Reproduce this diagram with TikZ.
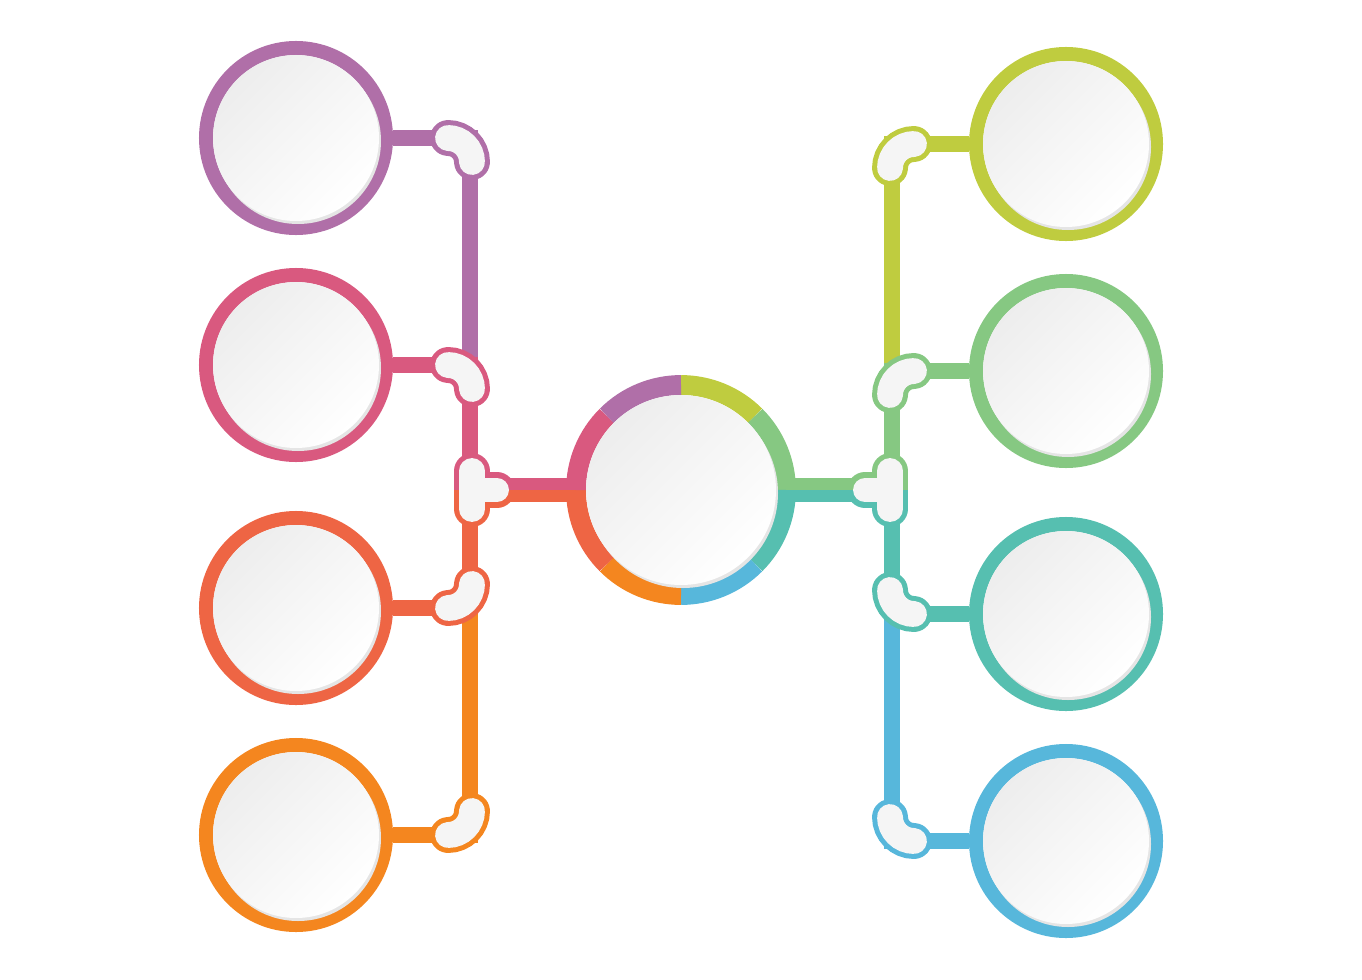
\documentclass[tikz,border=0pt]{standalone}
\usepackage{xcolor}
\usepackage{tikz}
\usetikzlibrary{positioning,calc}

\definecolor{purp}{HTML}{B06FA8}
\definecolor{rose}{HTML}{D9597F}
\definecolor{coral}{HTML}{EE6544}
\definecolor{orng}{HTML}{F4861F}
\definecolor{lime}{HTML}{BFCC3F}
\definecolor{leaf}{HTML}{86C882}
\definecolor{aqua}{HTML}{56BFB0}
\definecolor{sky}{HTML}{57B7DB}

\tikzset{
    bubble/.style={circle, draw=#1, line width=8pt, minimum size=3.6cm, inner sep=0pt},
    link/.style={#1, line width=9.5pt},
    halflink/.style={#1, line width=7pt},
    disc/.style={top color=black!7, bottom color=white, shading angle=45},
    pics/elbow/.style={code={
        \draw[#1, line width=20.4pt, line cap=round] (-22,0) .. controls (-8.75,0) and (2,10.75) .. (2,24);
        \draw[black!4, line width=14.7pt, line cap=round] (-22,0) .. controls (-8.75,0) and (2,10.75) .. (2,24);
    }},
    pics/tee/.style 2 args={code={
        \begin{scope}
            \clip (-30,-45) rectangle (50,0);
            \draw[#1, line width=20.4pt, line cap=round] (2,-19) -- (2,19) (2,0) -- (27,0);
        \end{scope}
        \begin{scope}
            \clip (-30,0) rectangle (50,45);
            \draw[#2, line width=20.4pt, line cap=round] (2,-19) -- (2,19) (2,0) -- (27,0);
        \end{scope}
        \draw[black!4, line width=14.7pt, line cap=round] (2,-19) -- (2,19);
        \draw[black!4, line width=13.6pt, line cap=round] (2,0) -- (27,0);
    }},
}

\begin{document}
\begin{tikzpicture}[x=0.02cm, y=-0.02cm]
    \useasboundingbox (0,0) rectangle (1362,980);

    % left column
    \node [bubble=purp] (l1) at (296,138) {};
    \node [bubble=rose] (l2) at (296,365) {};
    \node [bubble=coral] (l3) at (296,608) {};
    \node [bubble=orng] (l4) at (296,835) {};

    % right column
    \node [bubble=lime] (r1) at (1066,144) {};
    \node [bubble=leaf] (r2) at (1066,371) {};
    \node [bubble=aqua] (r3) at (1066,614) {};
    \node [bubble=sky] (r4) at (1066,841) {};

    % centre
    \node [circle, minimum size=4.2cm, inner sep=0pt] (ctr) at (681,490) {};

    % joints
    \coordinate (jl1) at (470,138);
    \coordinate (jl2) at (470,365);
    \coordinate (tl) at (470,490);
    \coordinate (jl3) at (470,608);
    \coordinate (jl4) at (470,835);
    \coordinate (jr1) at (892,144);
    \coordinate (jr2) at (892,371);
    \coordinate (tr) at (892,490);
    \coordinate (jr3) at (892,614);
    \coordinate (jr4) at (892,841);

    % connectors
    \draw [link=purp] (l1) -- (jl1) -- (jl2);
    \draw [link=rose] (l2) -- (jl2) -- (tl);
    \draw [link=coral] (l3) -- (jl3) -- (tl);
    \draw [link=orng] (l4) -- (jl4) -- (jl3);
    \draw [link=lime] (r1) -- (jr1) -- (jr2);
    \draw [link=leaf] (r2) -- (jr2) -- (tr);
    \draw [link=aqua] (r3) -- (jr3) -- (tr);
    \draw [link=sky] (r4) -- (jr4) -- (jr3);
    \draw [halflink=rose] ([yshift=3.4pt]tl) -- ([yshift=3.4pt]ctr.west);
    \draw [halflink=coral] ([yshift=-3.4pt]tl) -- ([yshift=-3.4pt]ctr.west);
    \draw [halflink=leaf] ([yshift=3.4pt]tr) -- ([yshift=3.4pt]ctr.east);
    \draw [halflink=aqua] ([yshift=-3.4pt]tr) -- ([yshift=-3.4pt]ctr.east);

    % centre ring
    \foreach \col [count=\i] in {lime,leaf,aqua,sky,orng,coral,rose,purp} {
        \pgfmathsetmacro\a{-135+45*\i}
        \draw [\col, line width=11.3pt] ($(ctr.center)+(\a:105)$) arc [start angle=\a, end angle=\a+45, radius=105];
    }

    % joint caps
    \pic at (jl1) {elbow=purp};
    \pic at (jl2) {elbow=rose};
    \pic [yscale=-1] at (jl3) {elbow=coral};
    \pic [yscale=-1] at (jl4) {elbow=orng};
    \pic [xscale=-1] at (jr1) {elbow=lime};
    \pic [xscale=-1] at (jr2) {elbow=leaf};
    \pic [xscale=-1, yscale=-1] at (jr3) {elbow=aqua};
    \pic [xscale=-1, yscale=-1] at (jr4) {elbow=sky};
    \pic at (tl) {tee={rose}{coral}};
    \pic [xscale=-1] at (tr) {tee={leaf}{aqua}};

    % white discs
    \foreach \c in {l1,l2,l3,l4,r1,r2,r3,r4} {
        \fill [black!10] ($(\c.center)+(2,3)$) circle (83);
        \shade [disc] (\c.center) circle (83);
    }
    \fill [black!10] ($(ctr.center)+(2,3)$) circle (95);
    \shade [disc] (ctr.center) circle (95);

\end{tikzpicture}
\end{document}
